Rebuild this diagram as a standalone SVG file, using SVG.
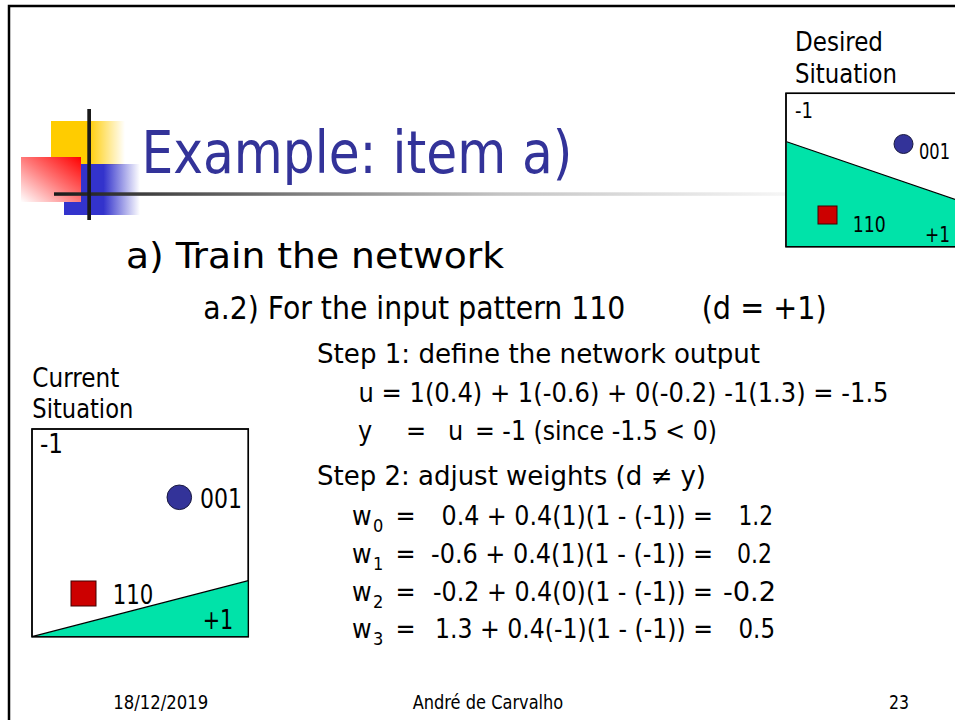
<svg xmlns="http://www.w3.org/2000/svg" width="955" height="720" viewBox="0 0 955 720">
  <style>
    text { font-family: "DejaVu Sans Condensed", "DejaVu Sans", Verdana, sans-serif; fill: #000; }
    .title { font-size: 58.67px; fill: #333399; }
    .h1 { font-size: 34.67px; }
    .h2 { font-size: 32px; }
    .body { font-size: 26.67px; }
    .sub { font-size: 18px; }
    .lab { font-size: 26.67px; }
    .slab { font-size: 21px; }
    .foot { font-size: 18.67px; }
    .box { fill: #fff; stroke: #000; stroke-width: 1.5; }
    .region { fill: #00E3A9; stroke: none; }
    .border { fill: none; stroke: #000; stroke-width: 1.3; }
    .pt-circle { fill: #333399; stroke: #1a1a40; stroke-width: 1; }
    .pt-square { fill: #CC0000; stroke: #400000; stroke-width: 1; }
  </style>
  <defs>
    <linearGradient id="gYellow" x1="0" y1="0" x2="1" y2="0">
      <stop offset="0" stop-color="#FFCC00"/>
      <stop offset="0.5" stop-color="#FFCC00"/>
      <stop offset="1" stop-color="#FFCC00" stop-opacity="0"/>
    </linearGradient>
    <linearGradient id="gBlue" x1="0" y1="0" x2="1" y2="0">
      <stop offset="0" stop-color="#3333CC"/>
      <stop offset="0.52" stop-color="#3333CC"/>
      <stop offset="1" stop-color="#3333CC" stop-opacity="0"/>
    </linearGradient>
    <linearGradient id="gRed" x1="1" y1="0" x2="0" y2="1">
      <stop offset="0" stop-color="#FF0000"/>
      <stop offset="0.5" stop-color="#FF7A7A"/>
      <stop offset="1" stop-color="#FFFFFF"/>
    </linearGradient>
    <linearGradient id="gRule" gradientUnits="userSpaceOnUse" x1="54" y1="0" x2="786" y2="0">
      <stop offset="0" stop-color="#1a1a1a"/>
      <stop offset="0.34" stop-color="#808080"/>
      <stop offset="0.61" stop-color="#C4C4C4"/>
      <stop offset="1" stop-color="#F6F6F6"/>
    </linearGradient>
  </defs>

  <rect width="955" height="720" fill="#fff"/>

  <!-- slide frame -->
  <path d="M9 720 V6 H955" fill="none" stroke="#000" stroke-width="2.5"/>

  <!-- title decoration -->
  <g id="logo">
    <rect x="51" y="121" width="74" height="44" fill="url(#gYellow)"/>
    <rect x="64" y="164" width="76" height="51" fill="url(#gBlue)"/>
    <rect x="21" y="157" width="60" height="45" fill="url(#gRed)"/>
    <rect x="54" y="192.3" width="732" height="3.5" fill="url(#gRule)"/>
    <rect x="87.3" y="109" width="3.7" height="111" fill="#1a1a1a"/>
  </g>

  <text class="title" x="141.5" y="173" textLength="431" lengthAdjust="spacingAndGlyphs">Example: item a)</text>

  <!-- desired situation panel -->
  <g id="desired">
    <text class="lab" x="795" y="51" textLength="88" lengthAdjust="spacingAndGlyphs">Desired</text>
    <text class="lab" x="795" y="82.7" textLength="102" lengthAdjust="spacingAndGlyphs">Situation</text>
    <rect class="box" x="786" y="93.3" width="200" height="153.4"/>
    <polygon class="region" points="786.7,141.7 986,210 986,246 786.7,246"/>
    <line x1="786.7" y1="141.7" x2="986" y2="210" stroke="#000" stroke-width="1.2"/>
    <rect class="border" x="786" y="93.3" width="200" height="153.4"/>
    <text class="slab" x="795" y="118" textLength="18" lengthAdjust="spacingAndGlyphs">-1</text>
    <circle class="pt-circle" cx="903.5" cy="144" r="9.5"/>
    <text class="slab" x="919" y="159" textLength="31" lengthAdjust="spacingAndGlyphs">001</text>
    <rect class="pt-square" x="818" y="206" width="19" height="18"/>
    <text class="slab" x="852.7" y="231.5" textLength="33" lengthAdjust="spacingAndGlyphs">110</text>
    <text class="slab" x="925" y="242" textLength="25" lengthAdjust="spacingAndGlyphs">+1</text>
  </g>

  <text class="h1" x="126" y="268" textLength="378" lengthAdjust="spacingAndGlyphs">a) Train the network</text>
  <text class="h2" x="203.3" y="319" textLength="422" lengthAdjust="spacingAndGlyphs">a.2) For the input pattern 110</text>
  <text class="h2" x="701.7" y="319" textLength="125" lengthAdjust="spacingAndGlyphs">(d = +1)</text>

  <!-- current situation panel -->
  <g id="current">
    <text class="lab" x="32.3" y="386.7" textLength="87" lengthAdjust="spacingAndGlyphs">Current</text>
    <text class="lab" x="32.3" y="418.3" textLength="101" lengthAdjust="spacingAndGlyphs">Situation</text>
    <rect class="box" x="32" y="429" width="216.3" height="207.7"/>
    <polygon class="region" points="32,636.7 248.3,580.7 248.3,636.7"/>
    <line x1="32" y1="636.7" x2="248.3" y2="580.7" stroke="#000" stroke-width="1.2"/>
    <rect class="border" x="32" y="429" width="216.3" height="207.7"/>
    <text class="lab" x="40" y="452.7" textLength="23" lengthAdjust="spacingAndGlyphs">-1</text>
    <circle class="pt-circle" cx="179.3" cy="497.3" r="12.3"/>
    <text class="lab" x="200" y="508.3" textLength="42" lengthAdjust="spacingAndGlyphs">001</text>
    <rect class="pt-square" x="71" y="581" width="25" height="25"/>
    <text class="lab" x="112.7" y="604.3" textLength="40.6" lengthAdjust="spacingAndGlyphs">110</text>
    <text class="lab" x="202.7" y="629.3" textLength="30.6" lengthAdjust="spacingAndGlyphs">+1</text>
  </g>

  <!-- computation steps -->
  <g id="steps">
    <text class="body" x="317" y="363" textLength="443" lengthAdjust="spacingAndGlyphs">Step 1: define the network output</text>
    <text class="body" x="358.5" y="401.7" textLength="530" lengthAdjust="spacingAndGlyphs">u = 1(0.4) + 1(-0.6) + 0(-0.2) -1(1.3) = -1.5</text>
    <text class="body" x="358" y="440">y</text>
    <text class="body" x="406" y="440">=</text>
    <text class="body" x="448" y="440">u</text>
    <text class="body" x="475" y="440" textLength="242" lengthAdjust="spacingAndGlyphs">= -1 (since -1.5 &lt; 0)</text>
    <text class="body" x="317" y="485" textLength="389" lengthAdjust="spacingAndGlyphs">Step 2: adjust weights (d ≠ y)</text>

    <text class="body" x="352" y="525">w</text>
    <text class="sub" x="373" y="532">0</text>
    <text class="body" x="395.5" y="525">=</text>
    <text class="body" x="441.5" y="525" textLength="271.5" lengthAdjust="spacingAndGlyphs">0.4 + 0.4(1)(1 - (-1)) =</text>
    <text class="body" x="738.5" y="525" textLength="34.5" lengthAdjust="spacingAndGlyphs">1.2</text>

    <text class="body" x="352" y="563.3">w</text>
    <text class="sub" x="373" y="570.3">1</text>
    <text class="body" x="395.5" y="563.3">=</text>
    <text class="body" x="431" y="563.3" textLength="282" lengthAdjust="spacingAndGlyphs">-0.6 + 0.4(1)(1 - (-1)) =</text>
    <text class="body" x="737" y="563.3" textLength="35" lengthAdjust="spacingAndGlyphs">0.2</text>

    <text class="body" x="352" y="600.7">w</text>
    <text class="sub" x="373" y="607.7">2</text>
    <text class="body" x="395.5" y="600.7">=</text>
    <text class="body" x="433" y="600.7" textLength="280" lengthAdjust="spacingAndGlyphs">-0.2 + 0.4(0)(1 - (-1)) =</text>
    <text class="body" x="723" y="600.7" textLength="53" lengthAdjust="spacingAndGlyphs">-0.2</text>

    <text class="body" x="352" y="638.3">w</text>
    <text class="sub" x="373" y="645.3">3</text>
    <text class="body" x="395.5" y="638.3">=</text>
    <text class="body" x="435" y="638.3" textLength="278" lengthAdjust="spacingAndGlyphs">1.3 + 0.4(-1)(1 - (-1)) =</text>
    <text class="body" x="738.5" y="638.3" textLength="36.5" lengthAdjust="spacingAndGlyphs">0.5</text>
  </g>

  <!-- footer -->
  <g id="footer">
    <text class="foot" x="113.3" y="709.3" textLength="95" lengthAdjust="spacingAndGlyphs">18/12/2019</text>
    <text class="foot" x="412.7" y="709.3" textLength="150.6" lengthAdjust="spacingAndGlyphs">André de Carvalho</text>
    <text class="foot" x="889" y="709.3" textLength="20" lengthAdjust="spacingAndGlyphs">23</text>
  </g>
</svg>
